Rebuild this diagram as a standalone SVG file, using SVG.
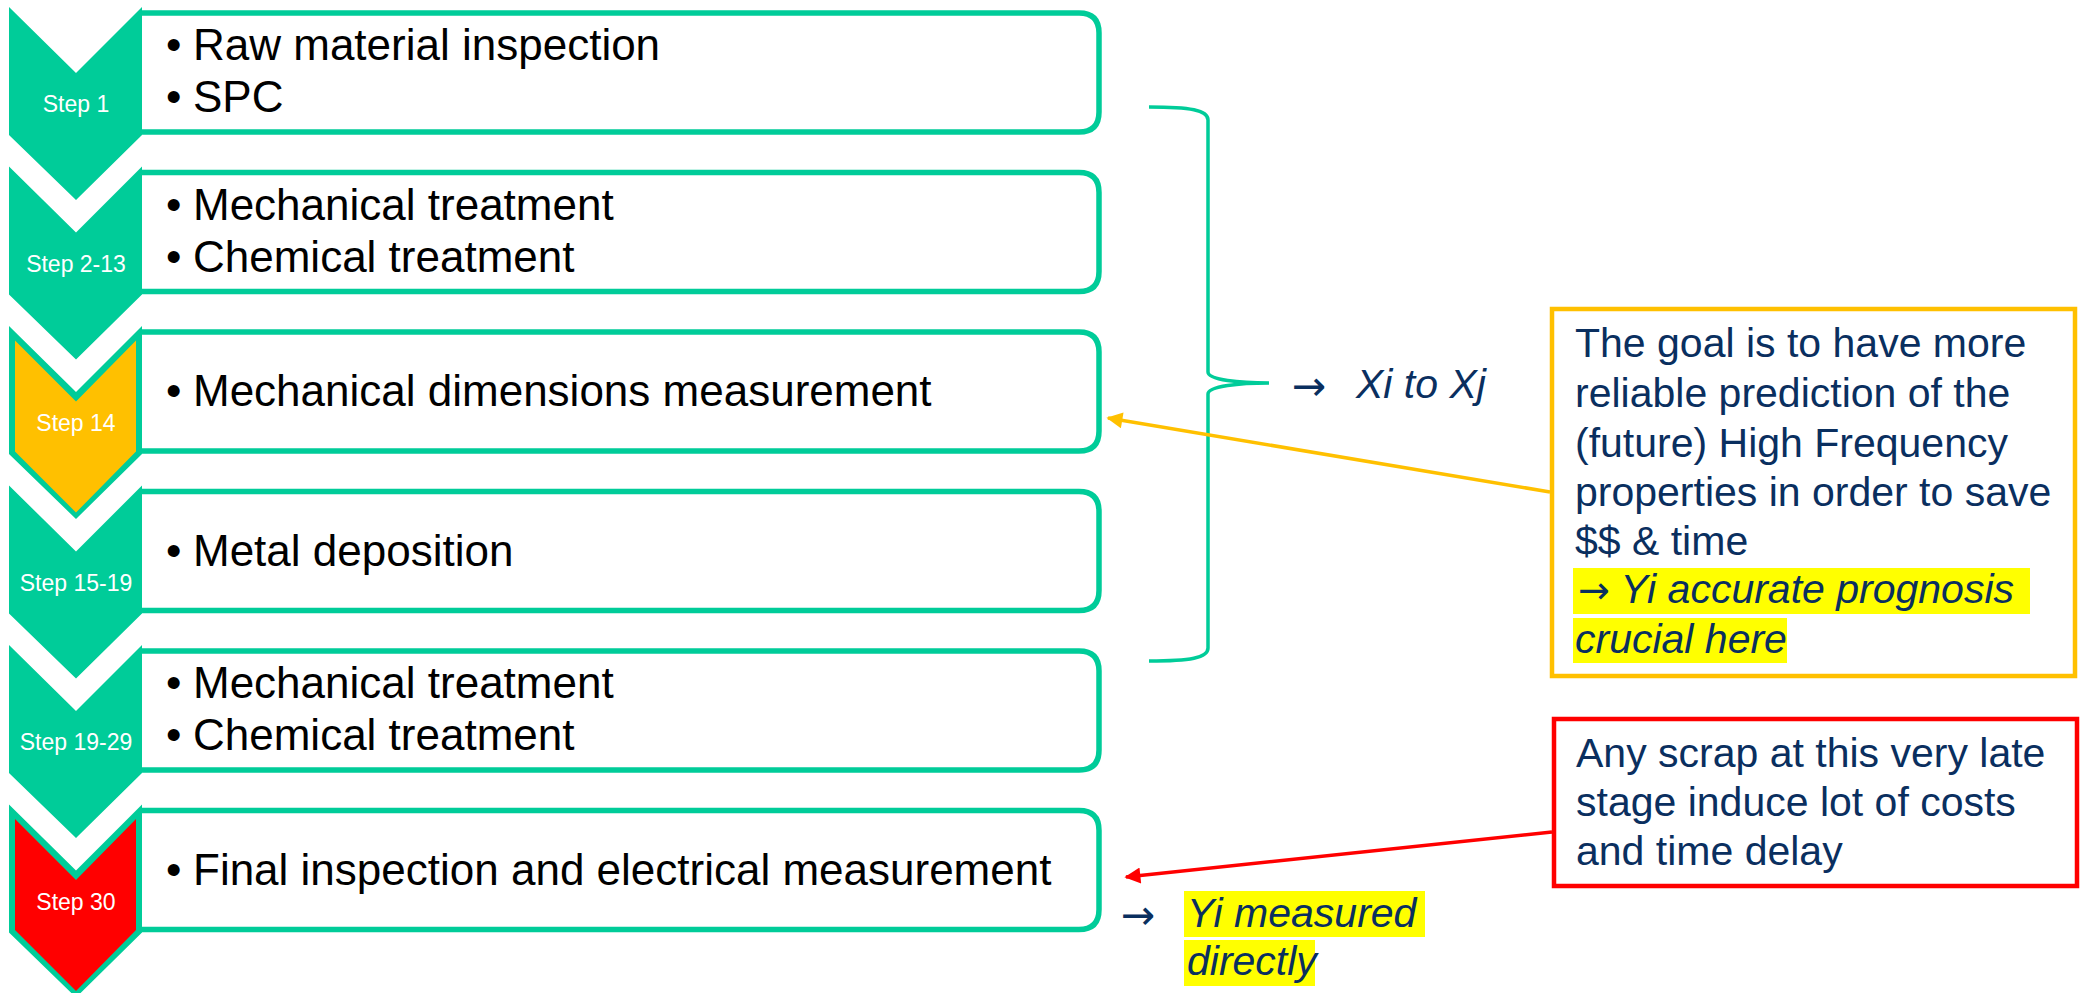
<svg xmlns="http://www.w3.org/2000/svg" width="2084" height="993" viewBox="0 0 2084 993">
<style>
.box{fill:#fff;stroke:#00CC99;stroke-width:5.5}
.chev{fill:#00CC99}
.lbl{font-family:"Liberation Sans",Arial,sans-serif;font-size:23px;fill:#fff;text-anchor:middle}
.txt{font-family:"Liberation Sans",Arial,sans-serif;font-size:44px;fill:#000}
.note{font-family:"Liberation Sans",Arial,sans-serif;font-size:41px;fill:#0A2F5F}
.it{font-style:italic}
.arr{font-family:"DejaVu Sans","Noto Sans",sans-serif;font-style:normal}
.hl{fill:#FFFF00}
</style>
<defs>
<polygon id="chev" points="9,7 76,73 142,7 142,135 76,200 9,135"/>
<polygon id="chevIn" points="15,21.5 76,82.5 136,21.5 136,132.5 76,193.5 15,132.5"/>
<marker id="ay" viewBox="0 0 10 10" refX="9" refY="5" markerWidth="18" markerHeight="16" markerUnits="userSpaceOnUse" orient="auto"><path d="M0,0 L10,5 L0,10 z" fill="#FFC000"/></marker>
<marker id="ar" viewBox="0 0 10 10" refX="9" refY="5" markerWidth="18" markerHeight="16" markerUnits="userSpaceOnUse" orient="auto"><path d="M0,0 L10,5 L0,10 z" fill="#FF0000"/></marker>
</defs>

<g id="step1">
<path class="box" d="M140,13 H1079 Q1099,13 1099,33 V112 Q1099,132 1079,132 H140"/>
<use href="#chev" class="chev"/>
<text class="lbl" x="76" y="112">Step 1</text>
<text class="txt" x="166" y="60">•</text><text class="txt" x="193" y="60">Raw material inspection</text>
<text class="txt" x="166" y="112">•</text><text class="txt" x="193" y="112">SPC</text>
</g>

<g id="step2">
<path class="box" d="M140,172.5 H1079 Q1099,172.5 1099,192.5 V271.5 Q1099,291.5 1079,291.5 H140"/>
<use href="#chev" class="chev" transform="translate(0,159.5)"/>
<text class="lbl" x="76" y="271.5">Step 2-13</text>
<text class="txt" x="166" y="219.5">•</text><text class="txt" x="193" y="219.5">Mechanical treatment</text>
<text class="txt" x="166" y="271.5">•</text><text class="txt" x="193" y="271.5">Chemical treatment</text>
</g>

<g id="step14">
<path class="box" d="M140,332 H1079 Q1099,332 1099,352 V431 Q1099,451 1079,451 H140"/>
<use href="#chev" class="chev" transform="translate(0,319)"/>
<use href="#chevIn" fill="#FFC000" transform="translate(0,319)"/>
<text class="lbl" x="76" y="431">Step 14</text>
<text class="txt" x="166" y="406">•</text><text class="txt" x="193" y="406">Mechanical dimensions measurement</text>
</g>

<g id="step15">
<path class="box" d="M140,491.5 H1079 Q1099,491.5 1099,511.5 V590.5 Q1099,610.5 1079,610.5 H140"/>
<use href="#chev" class="chev" transform="translate(0,478.5)"/>
<text class="lbl" x="76" y="590.5">Step 15-19</text>
<text class="txt" x="166" y="565.5">•</text><text class="txt" x="193" y="565.5">Metal deposition</text>
</g>

<g id="step19">
<path class="box" d="M140,651 H1079 Q1099,651 1099,671 V750 Q1099,770 1079,770 H140"/>
<use href="#chev" class="chev" transform="translate(0,638)"/>
<text class="lbl" x="76" y="750">Step 19-29</text>
<text class="txt" x="166" y="698">•</text><text class="txt" x="193" y="698">Mechanical treatment</text>
<text class="txt" x="166" y="750">•</text><text class="txt" x="193" y="750">Chemical treatment</text>
</g>

<g id="step30">
<path class="box" d="M140,810.5 H1079 Q1099,810.5 1099,830.5 V909.5 Q1099,929.5 1079,929.5 H140"/>
<use href="#chev" class="chev" transform="translate(0,797.5)"/>
<use href="#chevIn" fill="#FF0000" transform="translate(0,797.5)"/>
<text class="lbl" x="76" y="909.5">Step 30</text>
<text class="txt" x="166" y="884.5">•</text><text class="txt" x="193" y="884.5">Final inspection and electrical measurement</text>
</g>

<g id="bracket">
<path d="M1149,107 C1190,107 1208,110 1208,120 L1208,372 C1208,380 1240,383 1269,383 C1240,383 1208,386 1208,394 L1208,648 C1208,658 1190,661 1149,661" fill="none" stroke="#00CC99" stroke-width="3.5"/>
<text class="note arr" x="1292" y="400" font-size="40">→</text>
<text class="note it" x="1356" y="398" font-size="40">Xi to Xj</text>
</g>

<g id="goal">
<rect x="1552" y="309" width="523" height="367" fill="#fff" stroke="#FFC000" stroke-width="4.5"/>
<rect class="hl" x="1573" y="568" width="457" height="46"/>
<rect class="hl" x="1573" y="618" width="214" height="45"/>
<text class="note" x="1575" y="357">The goal is to have more</text>
<text class="note" x="1575" y="407">reliable prediction of the</text>
<text class="note" x="1575" y="457">(future) High Frequency</text>
<text class="note" x="1575" y="506">properties in order to save</text>
<text class="note" x="1575" y="555">$$ &amp; time</text>
<text class="note it" x="1578" y="603"><tspan class="arr" font-size="38">→</tspan> Yi accurate prognosis</text>
<text class="note it" x="1575" y="653">crucial here</text>
</g>

<g id="scrap">
<rect x="1554" y="719" width="523" height="167" fill="#fff" stroke="#FF0000" stroke-width="4.5"/>
<text class="note" x="1576" y="767">Any scrap at this very late</text>
<text class="note" x="1576" y="816">stage induce lot of costs</text>
<text class="note" x="1576" y="865">and time delay</text>
</g>

<g id="measured">
<rect class="hl" x="1184" y="891" width="241" height="46"/>
<rect class="hl" x="1184" y="940" width="131" height="46"/>
<text class="note arr" x="1121" y="929" font-size="40">→</text>
<text class="note it" x="1187" y="927">Yi measured</text>
<text class="note it" x="1187" y="975">directly</text>
</g>

<g id="connectors">
<line x1="1550" y1="492" x2="1108" y2="418" stroke="#FFC000" stroke-width="3.5" marker-end="url(#ay)"/>
<line x1="1552" y1="832" x2="1126" y2="877" stroke="#FF0000" stroke-width="3.5" marker-end="url(#ar)"/>
</g>
</svg>
